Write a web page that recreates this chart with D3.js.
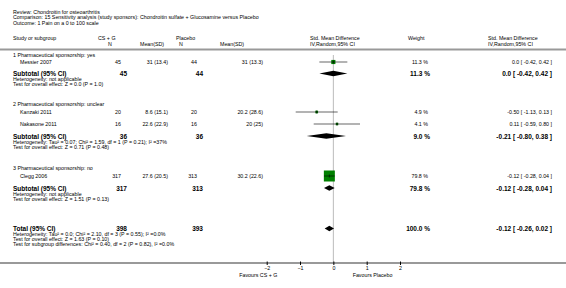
<!DOCTYPE html>
<html>
<head>
<meta charset="utf-8">
<script src="https://cdn.jsdelivr.net/npm/d3@7"></script>
<style>
  body { margin: 0; background: #fff; }
  svg text { font-family: "Liberation Sans", Arial, sans-serif; fill: #000; }
  .b { font-weight: bold; }
</style>
</head>
<body>
<div id="chart"></div>
<script>
// title lines
var titleLines = [
    "Review:  Chondroitin for osteoarthritis",
    "Comparison:  15 Sensitivity analysis (study sponsors): Chondroitin sulfate + Glucosamine versus Placebo",
    "Outcome:  1 Pain on a 0 to 100 scale"
];

// subgroups
var groupLabels = ["1 Pharmaceutical sponsorship: yes", "2 Pharmaceutical sponsorship: unclear", "3 Pharmaceutical sponsorship: no"];
var groupNcs = [45, 36, 317];
var groupNpl = [44, 36, 313];
var groupSmd = [0.0, -0.21, -0.12];
var groupLo = [-0.42, -0.80, -0.28];
var groupHi = [0.42, 0.38, 0.04];
var groupWeight = [11.3, 9.0, 79.8];
var groupHet = ["Heterogeneity: not applicable",
    "Heterogeneity: Tau\u00b2 = 0.07; Chi\u00b2 = 1.59, df = 1 (P = 0.21); I\u00b2 =37%",
    "Heterogeneity: not applicable"];
var groupTest = ["Test for overall effect: Z = 0.0  (P = 1.0)",
    "Test for overall effect: Z = 0.71  (P = 0.48)",
    "Test for overall effect: Z = 1.51  (P = 0.13)"];

// studies
var studyNames = ["Messier 2007", "Kanzaki 2011", "Nakasone 2011", "Clegg 2006"];
var studyNcs = [45, 20, 16, 317];
var studyMeanCs = ["31 (13.4)", "8.6 (15.1)", "22.6 (22.9)", "27.6 (20.5)"];
var studyNpl = [44, 20, 16, 313];
var studyMeanPl = ["31 (13.3)", "20.2 (28.6)", "20 (25)", "30.2 (22.6)"];
var studySmd = [0.0, -0.50, 0.11, -0.12];
var studyLo = [-0.42, -1.13, -0.59, -0.28];
var studyHi = [0.42, 0.13, 0.80, 0.04];
var studyWeight = [11.3, 4.9, 4.1, 79.8];

// overall
var totalNcs = 398, totalNpl = 393;
var totalSmd = -0.12, totalLo = -0.26, totalHi = 0.02, totalWeight = 100.0;
var totalLines = [
    "Heterogeneity: Tau\u00b2 = 0.0; Chi\u00b2 = 2.10, df = 3 (P = 0.55); I\u00b2 =0.0%",
    "Test for overall effect: Z = 1.63  (P = 0.10)",
    "Test for subgroup differences: Chi\u00b2 = 0.40, df = 2 (P = 0.82), I\u00b2 =0.0%"
];

var axisTicks = [-2, -1, 0, 1, 2];

function init() {
    var w = 566, h = 288;
    var fs = 5.3, fb = 6.5;

    var svg = d3.select("#chart").append("svg")
        .attr("width", w).attr("height", h);

    var x = d3.scaleLinear().domain([-2, 2]).range([266.7, 400]);
    var sq = d3.scaleSqrt().domain([0, 79.8]).range([0, 11]);

    function fmt(v) { return v === 0 ? "0.0" : v.toFixed(2); }
    function ci(m, l, u) { return fmt(m) + " [ " + fmt(l) + ", " + fmt(u) + " ]"; }

    function txt(xp, yp, s, opts) {
        opts = opts || {};
        return svg.append("text")
            .attr("x", xp).attr("y", yp)
            .attr("dominant-baseline", "central")
            .attr("text-anchor", opts.anchor || "start")
            .attr("class", opts.bold ? "b" : null)
            .style("font-size", (opts.size || fs) + "px")
            .text(s);
    }

    //titles
    titleLines.forEach(function(t, i) { txt(13, 11.5 + i * 5.5, t); });

    //headers
    txt(13, 38, "Study or subgroup");
    txt(98, 38, "CS + G");
    txt(110, 43.5, "N", {anchor: "middle"});
    txt(140, 43.5, "Mean(SD)");
    txt(176, 38, "Placebo");
    txt(181, 43.5, "N", {anchor: "middle"});
    txt(220, 43.5, "Mean(SD)");
    txt(310, 38, "Std. Mean Difference");
    txt(310, 43.5, "IV,Random,95% CI");
    txt(408, 38, "Weight");
    txt(488, 38, "Std. Mean Difference");
    txt(488, 43.5, "IV,Random,95% CI");

    svg.append("line").attr("x1", 0).attr("x2", w).attr("y1", 49.5).attr("y2", 49.5)
        .attr("stroke", "#999").attr("stroke-width", 2);

    // row layout
    var studyY = [62, 112, 124, 176];
    var groupY = [55, 104, 168];
    var subY = [73.5, 136, 188];
    var totY = 228.5;
    var axisY = 263;

    //zero line
    svg.append("line")
        .attr("x1", x(0)).attr("x2", x(0)).attr("y1", 55).attr("y2", axisY)
        .attr("stroke", "#bbb").attr("stroke-width", 1);

    groupLabels.forEach(function(g, i) { txt(13, groupY[i], g); });

    //studies
    studyNames.forEach(function(s, i) {
        var y = studyY[i];
        txt(20, y, s);
        txt(121, y, studyNcs[i], {anchor: "end"});
        txt(168, y, studyMeanCs[i], {anchor: "end"});
        txt(197, y, studyNpl[i], {anchor: "end"});
        txt(263, y, studyMeanPl[i], {anchor: "end"});
        txt(428, y, studyWeight[i].toFixed(1) + " %", {anchor: "end"});
        txt(552, y, ci(studySmd[i], studyLo[i], studyHi[i]), {anchor: "end"});

        var s2 = sq(studyWeight[i]);
        svg.append("rect")
            .attr("x", x(studySmd[i]) - s2 / 2).attr("y", y - s2 / 2)
            .attr("width", s2).attr("height", s2)
            .attr("fill", "#008000");
        svg.append("line")
            .attr("x1", x(studyLo[i])).attr("x2", x(studyHi[i]))
            .attr("y1", y).attr("y2", y)
            .attr("stroke", "#000").attr("stroke-width", 0.6);
        svg.append("line")
            .attr("x1", x(studySmd[i])).attr("x2", x(studySmd[i]))
            .attr("y1", y - 1.5).attr("y2", y + 1.5)
            .attr("stroke", "#000").attr("stroke-width", 0.6);
    });

    function diamond(m, l, u, y, hh) {
        svg.append("path")
            .attr("d", "M" + x(l) + "," + y + "L" + x(m) + "," + (y - hh) +
                "L" + x(u) + "," + y + "L" + x(m) + "," + (y + hh) + "Z")
            .attr("fill", "#000");
    }

    //subtotals
    groupLabels.forEach(function(g, i) {
        var y = subY[i];
        txt(13, y, "Subtotal (95% CI)", {bold: true, size: fb});
        txt(127, y, groupNcs[i], {bold: true, size: fb, anchor: "end"});
        txt(203, y, groupNpl[i], {bold: true, size: fb, anchor: "end"});
        txt(430, y, groupWeight[i].toFixed(1) + " %", {bold: true, size: fb, anchor: "end"});
        txt(552, y, ci(groupSmd[i], groupLo[i], groupHi[i]), {bold: true, size: fb, anchor: "end"});
        txt(13, y + 5.5, groupHet[i]);
        txt(13, y + 10.5, groupTest[i]);
        diamond(groupSmd[i], groupLo[i], groupHi[i], y, 2.8);
    });

    //total
    txt(13, totY, "Total (95% CI)", {bold: true, size: fb});
    txt(127, totY, totalNcs, {bold: true, size: fb, anchor: "end"});
    txt(203, totY, totalNpl, {bold: true, size: fb, anchor: "end"});
    txt(430, totY, totalWeight.toFixed(1) + " %", {bold: true, size: fb, anchor: "end"});
    txt(552, totY, ci(totalSmd, totalLo, totalHi), {bold: true, size: fb, anchor: "end"});
    totalLines.forEach(function(t, i) { txt(13, totY + 5.5 + i * 5, t); });
    diamond(totalSmd, totalLo, totalHi, totY, 2.8);

    //axis
    svg.append("line").attr("x1", 0).attr("x2", w).attr("y1", axisY).attr("y2", axisY)
        .attr("stroke", "#999").attr("stroke-width", 2);
    var ax = svg.append("g").attr("transform", "translate(0," + axisY + ")")
        .call(d3.axisBottom(x).tickValues(axisTicks).tickFormat(d3.format("d"))
            .tickSize(2).tickPadding(1.5));
    ax.select(".domain").remove();
    ax.selectAll("line").attr("stroke", "#000").attr("y1", -1.5);
    ax.selectAll("text").style("font-size", fs + "px")
        .style("font-family", "Liberation Sans, Arial, sans-serif");

    txt(x(-1.68), axisY + 12, "Favours CS + G", {anchor: "end"});
    txt(x(0.58), axisY + 12, "Favours Placebo");
}

window.onload = init;
</script>
</body>
</html>
